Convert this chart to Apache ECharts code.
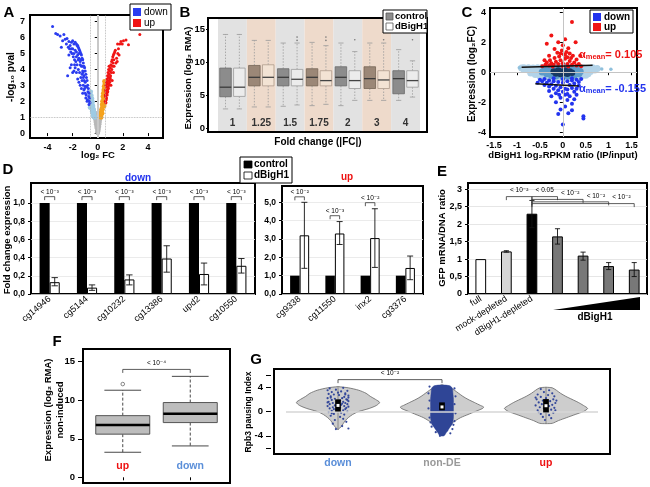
<!DOCTYPE html>
<html><head><meta charset="utf-8">
<script src="https://cdn.jsdelivr.net/npm/echarts@6/dist/echarts.min.js"></script>
<style>html,body{margin:0;padding:0;background:#fff}#c{width:650px;height:487px}</style>
</head><body><div id="c"></div>
<script>
// ================= DATA =================
// Panel A (volcano): [log2FC, -log10 p]
const A_gray = [[0,0],[0.03,0.1],[-0.03,0.15],[0.06,0.25],[-0.06,0.3],[0.1,0.4],[-0.1,0.4],[0.12,0.55],[-0.13,0.55],[0.15,0.7],[-0.16,0.7],[0.18,0.85],[-0.19,0.85],[0.21,1.0],[-0.22,1.0],[0.24,1.15],[-0.25,1.15],[0.26,1.3],[-0.28,1.3],[0.0,0.3],[0.05,0.5],[-0.05,0.6],[0.08,0.8],[-0.09,0.9],[0.1,1.05],[-0.12,1.1],[0.15,1.2],[-0.15,1.25],[0.0,0.7],[0.02,1.0],[0.3,1.45],[-0.32,1.45],[0.0,0.5],[0.04,0.2],[-0.02,0.05]];
const A_lightblue = [[-0.22,1.0],[-0.27,1.1],[-0.3,1.0],[-0.28,1.3],[-0.33,1.2],[-0.36,1.4],[-0.32,1.5],[-0.4,1.6],[-0.37,1.7],[-0.44,1.8],[-0.4,1.95],[-0.48,2.0],[-0.45,2.15],[-0.52,2.2],[-0.5,2.35],[-0.56,2.4],[-0.55,1.9],[-0.5,1.6],[-0.45,1.35],[-0.4,1.2],[-0.58,2.1],[-0.35,1.05],[-0.47,1.5],[-0.55,2.6],[-0.53,1.75],[-0.6,1.8],[-0.62,1.6]];
const A_orange = [[0.22,1.0],[0.25,1.1],[0.28,1.0],[0.26,1.3],[0.3,1.2],[0.33,1.4],[0.3,1.5],[0.35,1.6],[0.38,1.5],[0.34,1.8],[0.4,1.8],[0.42,2.0],[0.37,2.0],[0.45,2.2],[0.4,2.3],[0.5,2.3],[0.43,2.5],[0.52,2.6],[0.47,2.7],[0.55,2.8],[0.5,2.95],[0.56,3.1],[0.53,3.25],[0.58,2.5],[0.45,1.7],[0.36,1.25],[0.48,2.05],[0.55,2.15],[0.58,1.9],[0.52,1.7]];
const A_down = [[-0.62,1.9],[-0.65,2.2],[-0.7,2.5],[-0.68,2.0],[-0.75,2.8],[-0.72,2.3],[-0.8,3.0],[-0.78,2.6],[-0.85,3.3],[-0.9,3.5],[-0.82,2.1],[-0.95,3.7],[-1.0,3.9],[-0.88,2.9],[-1.05,4.1],[-1.1,4.2],[-0.92,2.4],[-1.15,4.4],[-1.2,4.6],[-1.0,3.2],[-1.25,4.7],[-1.3,4.9],[-1.1,3.6],[-1.35,5.0],[-1.4,5.1],[-1.2,3.9],[-1.45,5.2],[-1.5,5.3],[-1.3,4.2],[-1.55,5.4],[-1.6,5.5],[-1.4,4.5],[-1.65,5.5],[-1.7,5.6],[-1.5,4.7],[-1.8,5.7],[-1.9,5.6],[-1.6,4.9],[-2.0,5.8],[-1.7,5.1],[-1.8,5.2],[-2.1,5.7],[-1.9,5.0],[-2.2,5.5],[-2.0,5.3],[-1.05,2.8],[-1.15,3.0],[-1.25,3.3],[-1.35,3.5],[-1.45,3.8],[-1.55,4.0],[-1.65,4.3],[-1.75,4.5],[-1.85,4.6],[-1.95,4.8],[-2.05,5.0],[-2.15,5.1],[-2.25,5.3],[-1.0,2.5],[-1.1,2.7],[-0.95,2.2],[-1.25,3.7],[-1.4,4.3],[-1.55,4.6],[-1.7,4.8],[-1.2,4.2],[-1.35,4.6],[-1.5,5.0],[-1.15,3.5],[-2.35,5.4],[-2.5,5.6],[-2.3,5.75],[-2.6,5.9],[-2.8,5.8],[-2.45,5.95],[-3.0,6.1],[-2.7,6.2],[-3.2,6.2],[-3.35,6.25],[-3.6,6.7],[-2.9,5.4],[-2.1,4.3],[-2.2,4.1],[-2.4,3.6],[-2.0,3.8],[-1.9,3.9],[-1.7,3.8],[-1.6,3.4],[-1.5,3.2],[-1.3,2.8],[-1.2,2.5],[-1.4,3.0],[-0.85,2.0],[-0.7,1.8],[-1.8,4.1],[-1.85,4.3],[-2.3,4.9],[-2.1,5.3],[-0.98,2.95],[-1.08,3.3],[-1.18,3.8]];
const A_up = [[0.6,2.0],[0.62,2.3],[0.65,2.6],[0.7,2.9],[0.68,2.1],[0.75,3.1],[0.72,2.5],[0.8,3.3],[0.78,2.7],[0.85,3.5],[0.82,2.9],[0.9,3.7],[0.88,3.1],[0.95,3.9],[0.92,3.3],[1.0,4.1],[0.98,3.5],[1.05,4.3],[1.02,3.6],[1.1,4.5],[1.08,3.8],[1.15,4.6],[1.12,4.0],[1.2,4.8],[1.18,4.2],[1.25,4.9],[1.3,5.0],[1.22,4.4],[1.35,5.1],[1.28,4.6],[1.4,5.2],[0.7,2.2],[0.75,2.4],[0.8,2.6],[0.85,2.8],[0.9,3.0],[0.95,3.2],[1.0,3.4],[0.65,1.9],[0.6,2.4],[0.63,2.7],[0.66,3.0],[0.7,3.2],[0.74,3.4],[0.78,3.6],[0.82,3.8],[0.86,4.0],[0.9,4.2],[1.05,3.0],[1.15,3.3],[1.25,3.8],[1.3,4.2],[1.45,4.4],[1.5,4.7],[1.6,5.0],[1.55,4.5],[1.65,5.3],[1.75,5.6],[1.85,5.75],[1.95,5.6],[2.05,5.8],[2.25,5.85],[2.45,5.55],[3.35,6.2],[1.58,5.6],[1.7,4.9]];
const A_cutFC = 0.585;
const A_cutP = 1;
const A_xTicks = [-4,-2,0,2,4];
const A_yTicks = [0,1,2,3,4,5,6,7];

// Panel B (boxplots): [min, q1, median, q3, max]
const B_groups = ['1','1.25','1.5','1.75','2','3','4'];
const B_control = [[2.9,4.75,6.2,9.1,14.2],[3.2,6.4,7.7,9.5,13.3],[3.3,6.4,7.7,9.0,12.9],[3.4,6.4,7.7,9.0,13.0],[3.4,6.4,7.7,9.3,12.9],[4.2,6.0,7.5,9.3,12.9],[4.2,5.2,7.5,8.7,11.9]];
const B_dBigH1 = [[2.9,4.8,6.2,9.1,14.2],[3.2,6.4,7.7,9.6,13.3],[3.5,6.4,7.4,8.9,12.9],[3.6,6.4,7.2,8.7,12.5],[4.2,6.0,7.2,8.7,11.6],[4.2,6.0,7.3,8.7,12.9],[4.7,6.2,7.2,8.7,10.2]];
const B_outdBigH1 = [[2,13.3],[2,13.8],[3,13.3],[3,13.8],[4,13.4],[5,13.4],[6,13.4]];
const B_yTicks = [0,5,10,15];

// Panel C: [log2 RPKM ratio, log2FC]
const C_cloudLight = [[-0.85,0.3],[-0.75,0.3],[-0.65,0.28],[-0.55,0.3],[-0.45,0.32],[-0.35,0.35],[-0.25,0.36],[-0.15,0.37],[-0.05,0.38],[0.05,0.38],[0.15,0.37],[0.25,0.35],[0.35,0.32],[0.45,0.28],[0.55,0.25],[-0.85,0.2],[-0.75,0.15],[-0.65,0.12],[-0.6,0.05],[-0.7,-0.05],[-0.6,-0.15],[-0.5,-0.25],[-0.4,-0.3],[-0.3,-0.34],[-0.2,-0.36],[-0.1,-0.38],[0,-0.38],[0.1,-0.37],[0.2,-0.35],[0.3,-0.32],[0.4,-0.28],[0.5,-0.2],[0.55,-0.1],[0.6,0.05],[0.55,0.15],[-0.5,0.2],[-0.4,0.22],[-0.45,-0.15],[-0.55,0.1],[0.7,0.15],[0.75,0.25],[-0.9,0.28],[0.65,0.3],[-0.5,0.0],[0.45,0.0]];
const C_cloudOut = [[1.05,0.2],[0.85,0.22],[-0.95,0.3]];
const C_cloudMid = [[-0.4,0.15],[-0.35,0.05],[-0.35,-0.1],[-0.3,0.2],[-0.25,-0.2],[-0.2,0.25],[-0.15,-0.25],[-0.1,0.28],[0.0,-0.28],[0.05,0.28],[0.12,-0.25],[0.18,0.25],[0.25,-0.2],[0.3,0.18],[0.35,-0.1],[0.38,0.05],[0.32,-0.02],[-0.28,0.0],[-0.45,0.02],[0.25,0.1],[-0.25,0.1]];
const C_cloudDark = [[-0.2,0.05],[-0.15,-0.08],[-0.1,0.12],[-0.05,-0.12],[0,0.0],[0.05,0.12],[0.1,-0.1],[0.15,0.05],[0.2,-0.03],[-0.05,0.05],[0.05,-0.05],[-0.12,0.0],[0.12,0.0]];
const C_up = [[-0.45,0.4],[-0.38,0.5],[-0.3,0.45],[-0.25,0.6],[-0.2,0.5],[-0.15,0.7],[-0.1,0.55],[-0.05,0.8],[0,0.6],[0.05,0.9],[0.1,0.55],[0.15,0.75],[0.2,0.5],[0.25,0.65],[0.3,0.45],[0.35,0.55],[-0.35,0.65],[-0.28,0.8],[-0.18,0.95],[-0.08,1.05],[0.02,1.2],[0.1,1.0],[0.18,0.95],[0.22,1.1],[-0.12,1.3],[0.08,1.35],[-0.4,0.8],[0.3,0.85],[0.0,0.4],[-0.22,0.38],[0.12,0.38],[0.4,0.4],[-0.02,1.45],[0.12,1.6],[-0.3,1.1],[0.05,1.15],[-0.05,1.25],[0.15,1.25],[-0.35,1.9],[-0.1,2.0],[0.05,2.2],[0.28,2.0],[-0.25,2.45],[0.2,3.35],[0.0,1.8],[-0.18,1.55],[0.38,1.1]];
const C_down = [[-0.5,-0.5],[-0.45,-0.6],[-0.4,-0.45],[-0.35,-0.7],[-0.3,-0.55],[-0.25,-0.8],[-0.2,-0.6],[-0.15,-0.9],[-0.1,-0.65],[-0.05,-1.0],[0,-0.7],[0.05,-1.1],[0.1,-0.6],[0.15,-0.85],[0.2,-0.55],[0.25,-0.75],[0.3,-0.5],[0.35,-0.65],[0.4,-0.45],[-0.3,-0.95],[-0.2,-1.1],[-0.1,-1.2],[0,-1.3],[0.1,-1.15],[0.2,-1.05],[0.25,-1.3],[-0.15,-1.4],[0.05,-1.5],[0.15,-1.6],[-0.05,-1.7],[0.1,-1.85],[-0.15,-2.0],[0.2,-2.1],[0.05,-2.3],[-0.05,-2.5],[0.2,-2.55],[0.12,-2.75],[-0.1,-2.8],[0.45,-2.95],[0.45,-3.1],[0,-3.5],[-0.25,-1.6],[0.3,-1.1],[0.35,-0.9],[-0.4,-0.85],[-0.55,-0.7],[0.0,-0.45],[-0.2,-0.4],[0.2,-0.4],[0.3,-1.5],[-0.3,-1.25],[0.25,-1.8],[0.1,-1.45],[-0.08,-1.5]];
const C_regUp = [[-0.9,0.33],[0.65,0.47]];
const C_regDown = [[-0.6,-0.78],[0.35,-0.93]];
const C_alphaUp = '0.105';
const C_alphaDown = '-0.155';
const C_xTicks = [-1.5,-1,-0.5,0,0.5,1,1.5];
const C_yTicks = [-4,-2,0,2,4];

// Panel D (qPCR fold change)
const D_downGenes = ['cg14946','cg5144','cg10232','cg13386','upd2','cg10550'];
const D_downControl = [1,1,1,1,1,1];
const D_downKD = [0.13,0.07,0.16,0.39,0.22,0.31];
const D_downKDErr = [[0.09,0.18],[0.04,0.10],[0.10,0.21],[0.24,0.53],[0.10,0.34],[0.23,0.39]];
const D_downP = ['< 10⁻³','< 10⁻³','< 10⁻³','< 10⁻³','< 10⁻³','< 10⁻³'];
const D_downBracketY = [1.07,1.07,1.07,1.07,1.07,1.07];
const D_upGenes = ['cg9338','cg11550','inx2','cg3376'];
const D_upControl = [1,1,1,1];
const D_upKD = [3.2,3.3,3.05,1.42];
const D_upKDErr = [[1.4,5.0],[2.7,3.95],[1.45,4.65],[0.78,2.07]];
const D_upP = ['< 10⁻²','< 10⁻³','< 10⁻²',''];
const D_upBracketY = [5.3,4.27,4.98,null];
const D_downTicks = [0,0.2,0.4,0.6,0.8,1.0];
const D_upTicks = [0,1,2,3,4,5];

// Panel E
const E_labels = ['full','mock-depleted','dBigH1-depleted','','','',''];
const E_values = [1.0,1.22,2.3,1.65,1.1,0.8,0.7];
const E_err = [null,[1.2,1.24],[1.9,2.68],[1.43,1.87],[0.97,1.2],[0.7,0.9],[0.5,0.9]];
const E_brackets = [[1,2,2.79],[2,3,2.79],[2,4,2.71],[2,5,2.64],[2,6,2.59]];
const E_bracketP = ['< 10⁻²','< 0.05','< 10⁻²','< 10⁻²','< 10⁻²'];
const E_yTicks = [0,0.5,1,1.5,2,2.5,3];

// Panel F
const F_groups = ['up','down'];
const F_box = [[3.25,5.6,6.8,8.0,11.3],[4.07,7.1,8.26,9.7,13.1]];
const F_outliers = [[0,12.1]];
const F_bracket = [[0,1,14.0]];
const F_p = '< 10⁻⁴';
const F_yTicks = [0,5,10,15];

// Panel G (violins): profile [y, half-width as fraction of category band]
const G_groups = ['down','non-DE','up'];
const G_violinDown = [[-3,0],[-2.5,0.03],[-2,0.05],[-1.5,0.07],[-1,0.1],[-0.5,0.14],[0,0.2],[0.5,0.3],[1,0.37],[1.5,0.4],[2,0.36],[2.5,0.31],[3,0.27],[3.5,0.2],[3.9,0.1],[4.1,0]];
const G_violinNonDE = [[-4,0],[-3.5,0.03],[-3,0.05],[-2.5,0.07],[-2,0.09],[-1.5,0.13],[-1,0.18],[-0.5,0.25],[0,0.32],[0.5,0.39],[0.75,0.4],[1,0.37],[1.5,0.31],[2,0.25],[2.5,0.2],[3,0.16],[3.5,0.12],[4,0.07],[4.3,0.02],[4.4,0]];
const G_violinUp = [[-2,0],[-1.95,0.06],[-1.5,0.12],[-1,0.2],[-0.5,0.28],[0,0.36],[0.5,0.4],[1,0.36],[1.5,0.31],[2,0.25],[2.5,0.19],[3,0.14],[3.5,0.1],[3.9,0.06],[4.0,0]];
const G_nonDEBlob = [[-4.0,0.02],[-3.5,0.04],[-3.0,0.06],[-2.5,0.08],[-2.0,0.1],[-1.0,0.11],[0,0.11],[1,0.11],[2,0.11],[3,0.105],[3.8,0.1],[4.2,0.08],[4.35,0.03]];
const G_box = [[-3.0,0.0,1.0,2.0,4.0],[-4.0,0.2,0.75,1.5,4.4],[-1.9,-0.15,0.95,2.05,4.0]];
// jitter points: [offset within band, pausing index]
const G_downPts = [[-0.08,3.8],[0.05,3.9],[-0.02,3.6],[0.09,3.4],[-0.06,3.2],[0.03,3.3],[-0.09,2.9],[0.07,3.0],[-0.04,2.8],[0.1,2.6],[0.01,2.7],[-0.07,2.5],[0.06,2.4],[-0.1,2.2],[0.04,2.2],[-0.03,2.1],[0.08,2.0],[-0.06,1.9],[0.02,1.8],[0.1,1.7],[-0.09,1.6],[0.05,1.6],[-0.01,1.5],[0.07,1.4],[-0.05,1.4],[0.09,1.2],[-0.08,1.2],[0.03,1.1],[-0.03,1.0],[0.06,0.9],[-0.1,0.9],[0.1,0.8],[-0.05,0.7],[0.02,0.6],[-0.08,0.5],[0.07,0.4],[-0.02,0.3],[0.05,0.2],[-0.06,0.1],[0.09,0.0],[-0.09,-0.1],[0.03,-0.2],[-0.04,-0.4],[0.06,-0.5],[-0.07,-0.7],[0.02,-0.9],[0.05,-1.2],[-0.03,-1.4],[0.08,-1.7],[-0.05,-2.0],[0.04,-2.4],[0.1,-2.8],[-0.02,-2.9],[0.07,2.8],[-0.1,3.5],[0.09,1.9],[-0.07,2.3],[0.0,3.1],[0.04,1.3],[-0.04,0.4],[0.1,2.3],[-0.1,1.5],[0.08,0.6],[-0.06,-0.3]];
const G_nonDEPts = [[-0.12,4.1],[0.12,3.8],[-0.13,3.0],[0.13,2.5],[-0.12,1.8],[0.12,1.2],[-0.13,0.5],[0.13,-0.3],[-0.12,-1.0],[0.12,-1.6],[-0.1,-2.5],[0.1,-2.9],[-0.06,-3.4],[0.08,-3.6],[-0.02,-4.0],[0.11,-2.2],[-0.11,-1.8],[0.05,-3.1]];
const G_upPts = [[-0.05,3.7],[0.03,3.5],[-0.02,3.2],[0.06,3.0],[-0.08,2.8],[0.02,2.7],[0.08,2.5],[-0.05,2.4],[0.0,2.2],[-0.09,2.0],[0.07,2.0],[-0.03,1.8],[0.04,1.7],[-0.07,1.5],[0.09,1.4],[0.01,1.3],[-0.04,1.2],[0.06,1.1],[-0.1,1.0],[0.03,0.9],[-0.06,0.7],[0.08,0.6],[-0.02,0.5],[0.05,0.3],[-0.08,0.2],[0.02,0.0],[0.07,-0.2],[-0.05,-0.4],[0.03,-0.6],[-0.03,-0.9],[0.05,-1.1],[-0.01,-1.4],[0.1,1.8],[-0.1,2.3],[0.09,0.2],[-0.07,-0.1]];
const G_bracket = [[0,1,5.25]];
const G_p = '< 10⁻²';
const G_yLabels = [-4,0,4];
const G_yTicks = [-6,-4,0,4,6];

// ================= RENDER =================
const FONT = '"Liberation Sans", Arial, "DejaVu Sans", sans-serif';
const RED = '#ee1111', BLUE = '#2233ee', LBLUE = '#5b8fd9';
const chart = echarts.init(document.getElementById('c'), null, {renderer:'canvas', width:650, height:487});

function lbl(extra){ return Object.assign({color:'#000', fontSize:9, fontWeight:'bold', fontFamily:FONT}, extra||{}); }
const noLine = {show:false};
const tickStyle = {color:'#000', width:1};
const comma = v => String(v).replace('.', ',');
const comma1 = v => v.toFixed(1).replace('.', ',');

function valueAxis(gi, min, max, ticks, labelExtra, tickLen, fmt){
  return {gridIndex:gi, type:'value', min, max, axisLine:noLine,
    axisTick:{show:true, length:tickLen==null?3:tickLen, customValues:ticks, lineStyle:tickStyle},
    axisLabel:lbl(Object.assign({customValues:ticks, formatter:fmt||(v=>String(v))}, labelExtra||{})),
    splitLine:{show:false}};
}

// ---- custom renderers ----
function boxRenderer(offsetFrac, widthFrac, styleFn){
  return function(params, api){
    const cat = api.value(0);
    const bw = api.size([1,0])[0];
    const cx = api.coord([cat, 0])[0] + offsetFrac*bw;
    const w = widthFrac*bw;
    const Y = k => api.coord([cat, api.value(k)])[1];
    const yMin=Y(1), yQ1=Y(2), yMed=Y(3), yQ3=Y(4), yMax=Y(5);
    const s = styleFn(cat);
    const cw = w*s.capFrac;
    const wst = {stroke:s.whisker, lineWidth:s.wlw, lineDash:s.dash};
    const cst = {stroke:s.capColor, lineWidth:s.clw};
    return {type:'group', children:[
      {type:'line', shape:{x1:cx,y1:yQ3,x2:cx,y2:yMax}, style:wst},
      {type:'line', shape:{x1:cx,y1:yQ1,x2:cx,y2:yMin}, style:wst},
      {type:'line', shape:{x1:cx-cw/2,y1:yMax,x2:cx+cw/2,y2:yMax}, style:cst},
      {type:'line', shape:{x1:cx-cw/2,y1:yMin,x2:cx+cw/2,y2:yMin}, style:cst},
      {type:'rect', shape:{x:cx-w/2, y:yQ3, width:w, height:yQ1-yQ3}, style:{fill:s.fill, stroke:s.stroke, lineWidth:s.lw}},
      {type:'line', shape:{x1:cx-w/2,y1:yMed,x2:cx+w/2,y2:yMed}, style:{stroke:s.median, lineWidth:s.mlw}}
    ]};
  };
}
function bStyle(isControl){
  return cat => {
    const tan = cat % 2 === 1;
    return {
      fill: isControl ? (tan ? '#9b8777' : '#8c8c8c') : (tan ? '#f3e3d4' : '#ececec'),
      stroke: isControl ? (tan ? '#756556' : '#6a6a6a') : (tan ? '#ad9b8b' : '#9a9a9a'),
      lw: 0.8, median: isControl ? '#3a3a3a' : '#444', mlw: 1.3,
      whisker: '#9a9a9a', wlw: 0.8, dash: [1.5,1.5], capColor: '#9a9a9a', clw: 0.8, capFrac: 0.45
    };
  };
}
function errRenderer(offsetFrac, capFrac){
  return function(params, api){
    const cat = api.value(0);
    const bw = api.size([1,0])[0];
    const lo = api.coord([cat, api.value(1)]);
    const hi = api.coord([cat, api.value(2)]);
    const cx = lo[0] + offsetFrac*bw, cw = capFrac*bw;
    const st = {stroke:'#111', lineWidth:0.9};
    return {type:'group', children:[
      {type:'line', shape:{x1:cx,y1:lo[1],x2:cx,y2:hi[1]}, style:st},
      {type:'line', shape:{x1:cx-cw/2,y1:lo[1],x2:cx+cw/2,y2:lo[1]}, style:st},
      {type:'line', shape:{x1:cx-cw/2,y1:hi[1],x2:cx+cw/2,y2:hi[1]}, style:st}
    ]};
  };
}
function pairBracketRenderer(texts, halfFrac){
  return function(params, api){
    const cat = api.value(0);
    const bw = api.size([1,0])[0];
    const c = api.coord([cat, api.value(1)]);
    const x1 = c[0]-halfFrac*bw, x2 = c[0]+halfFrac*bw;
    return {type:'group', children:[
      {type:'polyline', shape:{points:[[x1,c[1]+3.5],[x1,c[1]],[x2,c[1]],[x2,c[1]+3.5]]}, style:{stroke:'#333', fill:'none', lineWidth:0.8}},
      {type:'text', x:(x1+x2)/2, y:c[1]-4.5, style:{text:texts[cat], fill:'#000', fontSize:6.5, fontFamily:FONT, align:'center', verticalAlign:'middle'}}
    ]};
  };
}
function spanBracketRenderer(texts, textMode, drop, textGap){
  return function(params, api){
    const a = api.value(0), b = api.value(1), lv = api.value(2);
    const p1 = api.coord([a, lv]), p2 = api.coord([b, lv]);
    const prev = api.coord([b-1, lv]);
    const tx = textMode === 'last' ? (prev[0]+p2[0])/2 : (p1[0]+p2[0])/2;
    return {type:'group', children:[
      {type:'polyline', shape:{points:[[p1[0],p1[1]+drop],[p1[0],p1[1]],[p2[0],p2[1]],[p2[0],p2[1]+drop]]}, style:{stroke:'#333', fill:'none', lineWidth:0.8}},
      {type:'text', x:tx, y:p1[1]-textGap, style:{text:texts[params.dataIndex], fill:'#000', fontSize:6.5, fontFamily:FONT, align:'center', verticalAlign:'middle'}}
    ]};
  };
}
function bandRenderer(params, api){
  const cat = api.value(0);
  const bw = api.size([1,0])[0];
  const cx = api.coord([cat, 0])[0];
  const cs = params.coordSys;
  return {type:'rect', shape:{x:cx-bw/2, y:cs.y, width:bw, height:cs.height},
    style:{fill: cat % 2 === 1 ? '#eedacb' : '#e2e2e2'}};
}
function profilePolygon(profiles, fill, stroke, lw, smooth){
  return function(params, api){
    const cat = api.value(0);
    const prof = profiles[cat];
    const bw = api.size([1,0])[0];
    const cx = api.coord([cat, 0])[0];
    const right = prof.map(p => [cx + p[1]*bw, api.coord([cat, p[0]])[1]]);
    const left = prof.slice().reverse().map(p => [cx - p[1]*bw, api.coord([cat, p[0]])[1]]);
    return {type:'polygon', shape:{points:right.concat(left), smooth:smooth}, style:{fill, stroke, lineWidth:lw}};
  };
}
function jitterRenderer(color, r){
  return function(params, api){
    const cat = api.value(0);
    const bw = api.size([1,0])[0];
    const c = api.coord([cat, api.value(2)]);
    return {type:'circle', shape:{cx:c[0]+api.value(1)*bw, cy:c[1], r}, style:{fill:color}};
  };
}
function violinBoxRenderer(params, api){
  const cat = api.value(0);
  const bw = api.size([1,0])[0];
  const Y = k => api.coord([cat, api.value(k)])[1];
  const cx = api.coord([cat,0])[0];
  const w = 0.055*bw;
  return {type:'group', children:[
    {type:'rect', shape:{x:cx-w/2, y:Y(4), width:w, height:Y(2)-Y(4)}, style:{fill:'#000'}},
    {type:'rect', shape:{x:cx-1.5, y:Y(3)-1.5, width:3, height:3}, style:{fill:'#fff'}}
  ]};
}
function whiskerLineRenderer(params, api){
  const cat = api.value(0);
  const a = api.coord([cat, api.value(1)]), b = api.coord([cat, api.value(5)]);
  return {type:'line', shape:{x1:a[0],y1:a[1],x2:b[0],y2:b[1]}, style:{stroke:'#777', lineWidth:0.8}};
}

const idx = arr => arr.map((r,i)=>[i].concat(r));

// ---- grids ----
const grids = [
  {left:30, top:15, width:133, height:123, show:true, borderColor:'#000', borderWidth:2},   // A
  {left:218, top:18, width:202, height:114},                                                // B
  {left:490, top:8, width:147, height:129, show:true, borderColor:'#000', borderWidth:2},    // C
  {left:31, top:183, width:224, height:111, show:true, borderColor:'#000', borderWidth:2},   // D down
  {left:282, top:186, width:141, height:108, show:true, borderColor:'#000', borderWidth:2},  // D up
  {left:468, top:183, width:179, height:111, show:true, borderColor:'#000', borderWidth:2},  // E
  {left:89, top:349, width:135, height:134},                                                // F
  {left:286, top:369, width:312, height:85}                                                 // G
];

const xAxes = [
  valueAxis(0, -5.4, 5.2, A_xTicks, {margin:5}),
  {gridIndex:1, type:'category', data:B_groups, axisLine:noLine, axisTick:noLine, z:20,
    axisLabel:lbl({inside:true, margin:4, fontSize:10, interval:0, color:'#333'})},
  valueAxis(2, -1.59, 1.62, C_xTicks, {margin:4}),
  {gridIndex:3, type:'category', data:D_downGenes, axisLine:noLine, axisTick:noLine,
    axisLabel:lbl({rotate:40, fontWeight:'normal', fontSize:9, margin:4, interval:0})},
  {gridIndex:4, type:'category', data:D_upGenes, axisLine:noLine, axisTick:noLine,
    axisLabel:lbl({rotate:40, fontWeight:'normal', fontSize:9, margin:4, interval:0})},
  {gridIndex:5, type:'category', data:E_labels, axisLine:noLine, axisTick:noLine,
    axisLabel:lbl({rotate:32, fontWeight:'normal', fontSize:9, margin:4, interval:0})},
  {gridIndex:6, type:'category', data:F_groups, axisLine:noLine, z:20,
    axisTick:{show:true, length:3, alignWithLabel:true, lineStyle:tickStyle},
    axisLabel:lbl({inside:true, margin:11, fontSize:10.5, interval:0, color:(v)=> v==='up'?RED:LBLUE})},
  {gridIndex:7, type:'category', data:G_groups, axisLine:noLine,
    axisTick:{show:true, length:3, alignWithLabel:true, lineStyle:{color:'#888'}},
    axisLabel:lbl({margin:4, fontSize:10.5, interval:0, color:(v)=> v==='up'?RED:(v==='down'?LBLUE:'#999')})}
];
const yAxes = [
  valueAxis(0, -0.31, 7.42, A_yTicks, {margin:5}),
  Object.assign(valueAxis(1, -0.6, 16.7, B_yTicks, {margin:3, fontSize:9.5}, 2), {offset:10}),
  valueAxis(2, -4.33, 4.29, C_yTicks, {margin:4}),
  Object.assign(valueAxis(3, 0, 1.22, D_downTicks, {margin:6, fontSize:8.5}, 3, comma1), {splitLine:{show:true, lineStyle:{color:'#e6e6e6', width:0.8}}}),
  Object.assign(valueAxis(4, 0, 5.89, D_upTicks, {margin:6, fontSize:8.5}, 3, comma1), {splitLine:{show:true, lineStyle:{color:'#e6e6e6', width:0.8}}}),
  Object.assign(valueAxis(5, 0, 3.18, E_yTicks, {margin:6, fontSize:9}, 3, comma), {splitLine:{show:true, lineStyle:{color:'#e0e0e0', width:0.8}}}),
  Object.assign(valueAxis(6, -0.74, 16.65, F_yTicks, {margin:8, fontSize:9.5}, 5), {offset:6}),
  Object.assign(valueAxis(7, -7, 7, G_yTicks, {margin:8, fontSize:9.5, customValues:G_yLabels}, 5), {offset:15})
];

const S = [];
// ---- A ----
const sc = (xi, data, color, size) => ({type:'scatter', xAxisIndex:xi, yAxisIndex:xi, data, symbolSize:size, itemStyle:{color, opacity:1}, silent:true});
S.push(Object.assign(sc(0, A_gray, '#b8b8b8', 4.5), {markLine:{silent:true, symbol:'none', label:{show:false},
  data:[{xAxis:0, lineStyle:{color:'#c8c8c8', type:'solid', width:2}},
        {xAxis:-A_cutFC, lineStyle:{color:'#aaa', type:'dotted', width:0.8}},
        {xAxis:A_cutFC, lineStyle:{color:'#aaa', type:'dotted', width:0.8}},
        {yAxis:A_cutP, lineStyle:{color:'#aaa', type:'dotted', width:0.8}}]}}));
S.push(sc(0, A_lightblue, '#9fcbe3', 4.5));
S.push(sc(0, A_orange, '#f5a21c', 4.5));
S.push(sc(0, A_down, '#2a3cf0', 3));
S.push(sc(0, A_up, '#f01414', 3));
// ---- B ----
S.push({type:'custom', xAxisIndex:1, yAxisIndex:1, data:B_groups.map((g,i)=>[i,0]), renderItem:bandRenderer, encode:{x:0,y:1}, silent:true, z:1});
S.push({type:'custom', xAxisIndex:1, yAxisIndex:1, data:idx(B_control), renderItem:boxRenderer(-0.24, 0.4, bStyle(true)), encode:{x:0,y:[1,2,3,4,5]}, silent:true, z:2});
S.push({type:'custom', xAxisIndex:1, yAxisIndex:1, data:idx(B_dBigH1), renderItem:boxRenderer(0.24, 0.4, bStyle(false)), encode:{x:0,y:[1,2,3,4,5]}, silent:true, z:2});
S.push({type:'custom', xAxisIndex:1, yAxisIndex:1, data:B_outdBigH1, encode:{x:0,y:1}, silent:true, z:3,
  renderItem:(p,api)=>{const bw=api.size([1,0])[0]; const c=api.coord([api.value(0),api.value(1)]); return {type:'circle', shape:{cx:c[0]+0.24*bw, cy:c[1], r:0.8}, style:{fill:'#777'}};}});
// ---- C ----
S.push(Object.assign(sc(2, C_cloudLight, '#b3d3e8', 7), {markLine:{silent:true, symbol:'none', label:{show:false},
  data:[{xAxis:0, lineStyle:{color:'#c4c4c4', type:'solid', width:1}}, {yAxis:0, lineStyle:{color:'#c4c4c4', type:'solid', width:1}}]}}));
S.push(sc(2, C_cloudOut, '#8fc0dc', 3.5));
S.push(sc(2, C_cloudMid, '#5d9cc9', 7));
S.push(sc(2, C_cloudDark, '#173a63', 6.5));
S.push(sc(2, C_up, '#f01414', 4));
S.push(sc(2, C_down, '#2233ee', 4));
S.push({type:'line', xAxisIndex:2, yAxisIndex:2, data:C_regUp, symbol:'none', lineStyle:{color:'#111', width:1.5}, silent:true, z:5});
S.push({type:'line', xAxisIndex:2, yAxisIndex:2, data:C_regDown, symbol:'none', lineStyle:{color:'#111', width:1.5}, silent:true, z:5});
// ---- D ----
const barBase = {type:'bar', barWidth:'27%', barGap:'0%', silent:true};
S.push(Object.assign({}, barBase, {xAxisIndex:3, yAxisIndex:3, data:D_downControl, itemStyle:{color:'#000'}}));
S.push(Object.assign({}, barBase, {xAxisIndex:3, yAxisIndex:3, data:D_downKD, itemStyle:{color:'#fff', borderColor:'#000', borderWidth:1}}));
S.push({type:'custom', xAxisIndex:3, yAxisIndex:3, data:idx(D_downKDErr), renderItem:errRenderer(0.135, 0.17), encode:{x:0,y:[1,2]}, silent:true, z:4});
S.push({type:'custom', xAxisIndex:3, yAxisIndex:3, data:D_downBracketY.map((y,i)=>[i,y]), renderItem:pairBracketRenderer(D_downP, 0.135), encode:{x:0,y:1}, silent:true, z:4});
S.push(Object.assign({}, barBase, {xAxisIndex:4, yAxisIndex:4, data:D_upControl, itemStyle:{color:'#000'}}));
S.push(Object.assign({}, barBase, {xAxisIndex:4, yAxisIndex:4, data:D_upKD, itemStyle:{color:'#fff', borderColor:'#000', borderWidth:1}}));
S.push({type:'custom', xAxisIndex:4, yAxisIndex:4, data:idx(D_upKDErr), renderItem:errRenderer(0.135, 0.17), encode:{x:0,y:[1,2]}, silent:true, z:4});
S.push({type:'custom', xAxisIndex:4, yAxisIndex:4, data:D_upBracketY.map((y,i)=>[i,y]).filter(d=>d[1]!=null), renderItem:pairBracketRenderer(D_upP, 0.135), encode:{x:0,y:1}, silent:true, z:4});
// ---- E ----
const E_colors = ['#ffffff','#d6d6d6','#000000','#787878','#787878','#787878','#787878'];
S.push({type:'bar', xAxisIndex:5, yAxisIndex:5, barWidth:'42%', silent:true,
  data:E_values.map((v,i)=>({value:v, itemStyle:{color:E_colors[i], borderColor:'#000', borderWidth:1}}))});
S.push({type:'custom', xAxisIndex:5, yAxisIndex:5, data:E_err.map((e,i)=>e?[i,e[0],e[1]]:null).filter(Boolean), renderItem:errRenderer(0, 0.2), encode:{x:0,y:[1,2]}, silent:true, z:4});
S.push({type:'custom', xAxisIndex:5, yAxisIndex:5, data:E_brackets, renderItem:spanBracketRenderer(E_bracketP, 'last', 3.5, 6), encode:{x:[0,1],y:2}, silent:true, z:4});
// ---- F ----
S.push({type:'custom', xAxisIndex:6, yAxisIndex:6, data:idx(F_box), encode:{x:0,y:[1,2,3,4,5]}, silent:true,
  renderItem:boxRenderer(0, 0.8, ()=>({fill:'#bdbdbd', stroke:'#555', lw:1, median:'#000', mlw:2.5, whisker:'#333', wlw:0.9, dash:[3,2], capColor:'#333', clw:0.9, capFrac:0.68}))});
S.push({type:'custom', xAxisIndex:6, yAxisIndex:6, data:F_outliers, encode:{x:0,y:1}, silent:true,
  renderItem:(p,api)=>{const c=api.coord([api.value(0),api.value(1)]); return {type:'circle', shape:{cx:c[0], cy:c[1], r:1.8}, style:{fill:'none', stroke:'#555', lineWidth:0.7}};}});
S.push({type:'custom', xAxisIndex:6, yAxisIndex:6, data:F_bracket, renderItem:spanBracketRenderer([F_p], 'mid', 3.5, 6), encode:{x:[0,1],y:2}, silent:true});
// ---- G ----
const G_profiles = [G_violinDown, G_violinNonDE, G_violinUp];
S.push({type:'custom', xAxisIndex:7, yAxisIndex:7, data:G_groups.map((g,i)=>[i,0]), encode:{x:0,y:1}, silent:true, z:2,
  renderItem:profilePolygon(G_profiles, '#cdcdcd', '#666', 0.8, 0.25),
  markLine:{silent:true, symbol:'none', label:{show:false}, data:[{yAxis:0}], lineStyle:{color:'#d6d6d6', type:'solid', width:1.5}}});
S.push({type:'custom', xAxisIndex:7, yAxisIndex:7, data:idx(G_box), renderItem:whiskerLineRenderer, encode:{x:0,y:[1,5]}, silent:true, z:3});
S.push({type:'custom', xAxisIndex:7, yAxisIndex:7, data:[[1,0]], encode:{x:0,y:1}, silent:true, z:3,
  renderItem:profilePolygon([null, G_nonDEBlob, null], '#2f4596', '#2f4596', 0.5, 0.2)});
S.push({type:'custom', xAxisIndex:7, yAxisIndex:7, data:G_downPts.map(p=>[0,p[0],p[1]]), renderItem:jitterRenderer('#33479a', 1.1), encode:{x:0,y:2}, silent:true, z:4});
S.push({type:'custom', xAxisIndex:7, yAxisIndex:7, data:G_nonDEPts.map(p=>[1,p[0],p[1]]), renderItem:jitterRenderer('#33479a', 1.1), encode:{x:0,y:2}, silent:true, z:4});
S.push({type:'custom', xAxisIndex:7, yAxisIndex:7, data:G_upPts.map(p=>[2,p[0],p[1]]), renderItem:jitterRenderer('#33479a', 1.1), encode:{x:0,y:2}, silent:true, z:4});
S.push({type:'custom', xAxisIndex:7, yAxisIndex:7, data:idx(G_box), renderItem:violinBoxRenderer, encode:{x:0,y:[1,5]}, silent:true, z:5});
S.push({type:'custom', xAxisIndex:7, yAxisIndex:7, data:G_bracket, renderItem:spanBracketRenderer([G_p], 'mid', 3.5, 6), encode:{x:[0,1],y:2}, silent:true, z:5});

// ---- graphic: titles, legends, frames ----
function T(text, x, y, o){
  o = o || {};
  return {type:'text', x, y, rotation:o.rot||0, z:100, silent:true,
    style:{text, fill:o.color||'#000', fontSize:o.size||9.5, fontWeight:o.weight||'bold', fontFamily:FONT,
      align:o.align||'center', verticalAlign:'middle', rich:o.rich}};
}
function R(x,y,w,h,fill,stroke,lw){ return {type:'rect', z:90, silent:true, shape:{x,y,width:w,height:h}, style:{fill, stroke, lineWidth:lw||1}}; }
const V = Math.PI/2;
const G = [
  // panel letters
  T('A', 9, 13, {size:15}), T('B', 185, 13, {size:15}), T('C', 467, 13, {size:15}),
  T('D', 8, 170, {size:15}), T('E', 442, 172, {size:15}), T('F', 57, 342, {size:15}), T('G', 256, 360, {size:15}),
  // frames
  R(208,18,219,114,'none','#000',2), R(83,349,147,134,'none','#000',2), R(274,369,336,85,'none','#000',2),
  // axis titles
  T('-log₁₀ pval', 11, 77, {rot:V, size:10}),
  T('log₂ FC', 98, 155, {size:9.5}),
  T('Expression (log₂ RMA)', 188, 78, {rot:V, size:9.5}),
  T('Fold change (|FC|)', 318, 142, {size:10}),
  T('Expression (log₂FC)', 472, 74, {rot:V, size:10}),
  T('dBigH1 log₂RPKM ratio (IP/input)', 563, 155, {size:9.5}),
  T('Fold change expression', 7, 240, {rot:V, size:9.5}),
  T('down', 138, 178, {color:BLUE, size:10}),
  T('up', 347, 177, {color:RED, size:10}),
  T('GFP mRNA/DNA ratio', 442, 238, {rot:V, size:9.5}),
  T('dBigH1', 595, 317, {size:10}),
  T('Expression (log₂ RMA)', 48, 410, {rot:V, size:9.5}),
  T('non-induced', 60, 410, {rot:V, size:9.5}),
  T('Rpb3 pausing Index', 249, 412, {rot:V, size:8.5}),
  // alpha labels in C
  T('{a|α}{s|mean}{a|= ' + C_alphaUp + '}', 579, 55, {align:'left', color:RED, rich:{a:{fontSize:11, fontWeight:'bold', fill:RED, fontFamily:FONT}, s:{fontSize:7.5, fontWeight:'bold', fill:RED, fontFamily:FONT, verticalAlign:'bottom', padding:[4,0,0,0]}}}),
  T('{a|α}{s|mean}{a|= ' + C_alphaDown + '}', 579, 89, {align:'left', color:BLUE, rich:{a:{fontSize:11, fontWeight:'bold', fill:BLUE, fontFamily:FONT}, s:{fontSize:7.5, fontWeight:'bold', fill:BLUE, fontFamily:FONT, verticalAlign:'bottom', padding:[4,0,0,0]}}}),
  // wedge in E
  {type:'polygon', z:90, silent:true, shape:{points:[[553,310],[640,310],[640,297]]}, style:{fill:'#000'}},
  // legend A
  R(130,4,41,26,'#fff','#000',1), R(133,8,8,8,'#2a3cf0','none'), T('down',144,12,{align:'left',size:10,weight:'normal'}),
  R(133,19,8,8,'#f01414','none'), T('up',144,23,{align:'left',size:10,weight:'normal'}),
  // legend B
  R(383,10,44,23,'#fff','#000',1), R(386,13,7,7,'#8c8c8c','#555',0.8), T('control',395,16.5,{align:'left',size:9.5}),
  R(386,23,7,7,'#fff','#555',0.8), T('dBigH1',395,26.5,{align:'left',size:9.5}),
  // legend C
  R(590,10,43,23,'#fff','#000',1), R(593,13,8,8,'#2233ee','none'), T('down',604,17,{align:'left',size:10}),
  R(593,23,8,8,'#f01414','none'), T('up',604,27,{align:'left',size:10}),
  // legend D
  R(240,157,52,26,'#fff','#000',1), R(244,161,8,7,'#000','#000',0.8), T('control',254,164.5,{align:'left',size:10}),
  R(244,172,8,7,'#fff','#000',0.8), T('dBigH1',254,175.5,{align:'left',size:10})
];

chart.setOption({
  animation:false,
  textStyle:{fontFamily:FONT},
  grid:grids, xAxis:xAxes, yAxis:yAxes, series:S, graphic:G
});
</script></body></html>
